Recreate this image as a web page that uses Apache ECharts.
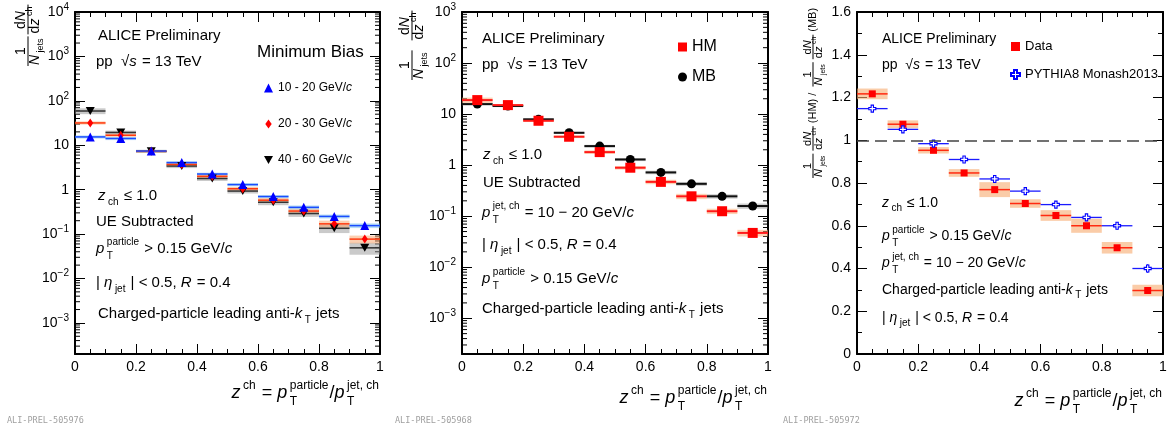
<!DOCTYPE html>
<html>
<head>
<meta charset="utf-8">
<script src="https://cdn.jsdelivr.net/npm/echarts@6/dist/echarts.min.js"></script>
<style>
html, body { margin: 0; padding: 0; background: #fff; }
#main { width: 1168px; height: 428px; }
</style>
</head>
<body>
<div id="main"></div>
<script>
var FONT = '"Liberation Sans", Arial, Helvetica, sans-serif';

// bins in z_ch
var zBins = [0.05, 0.15, 0.25, 0.35, 0.45, 0.55, 0.65, 0.75, 0.85, 0.95];
var binWidth = 0.1;

// left panel: minimum bias, three jet pT ranges
var mb10to20 = [15.4, 14.2, 7.4, 4.07, 2.25, 1.30, 0.70, 0.40, 0.25, 0.155];
var mb20to30 = [31.8, 16.8, 7.3, 3.7, 2.0, 1.05, 0.58, 0.33, 0.17, 0.077];
var mb40to60 = [59, 19.4, 7.3, 3.4, 1.78, 0.93, 0.52, 0.29, 0.135, 0.049];
var sys10to20 = [0.08, 0.08, 0.06, 0.07, 0.07, 0.08, 0.08, 0.1, 0.1, 0.12];
var sys20to30 = [0.08, 0.08, 0.07, 0.08, 0.1, 0.1, 0.12, 0.14, 0.18, 0.2];
var sys40to60 = [0.15, 0.1, 0.08, 0.1, 0.12, 0.12, 0.14, 0.16, 0.22, 0.3];

// middle panel: high multiplicity vs minimum bias, 10-20 GeV/c
var hmVals = [18.8, 15.0, 7.4, 3.6, 1.8, 0.89, 0.47, 0.245, 0.125, 0.047];
var mbVals = [15.7, 14.4, 7.9, 4.3, 2.36, 1.29, 0.72, 0.43, 0.245, 0.158];
var hmSys = [0.12, 0.05, 0.05, 0.06, 0.08, 0.08, 0.1, 0.12, 0.12, 0.15];
var mbSys = [0.06, 0.05, 0.04, 0.05, 0.06, 0.07, 0.08, 0.09, 0.1, 0.12];

// right panel: HM / MB ratio
var ratioData = [1.217, 1.075, 0.953, 0.847, 0.769, 0.704, 0.648, 0.600, 0.497, 0.297];
var ratioSys = [0.025, 0.018, 0.015, 0.018, 0.035, 0.02, 0.025, 0.033, 0.027, 0.027];
var ratioPythia = [1.148, 1.051, 0.984, 0.910, 0.819, 0.762, 0.699, 0.639, 0.600, 0.400];
var pythiaErr = [0.005, 0.005, 0.006, 0.006, 0.006, 0.007, 0.01, 0.012, 0.018, 0.02];

var logMin = Math.pow(10, -3.7);

// ---------- text helpers ----------
var ctx = document.createElement('canvas').getContext('2d');
function textWidth(s, size, italic) {
	ctx.font = (italic ? 'italic ' : '') + size + 'px ' + FONT;
	return ctx.measureText(s).width;
}
function textEl(s, x, y, size, italic, color) {
	return {
		type: 'text', x: x, y: y, silent: true,
		style: { text: s, font: (italic ? 'italic ' : '') + size + 'px ' + FONT, fill: color || '#000', verticalAlign: 'middle', align: 'left' }
	};
}
// tokens: [text, kind, text2]; kind: '' normal, 'i' italic, '^' sup, '_' sub, '^_' sup+sub stacked
function layout(tokens, size, small) {
	var s2 = small || Math.round(size * 0.68);
	var els = [], cx = 0;
	tokens.forEach(function(t) {
		var k = t[1] || '';
		if (k === '^' || k === '_' || k === '^_') {
			cx += 1.5;
			var w = 0;
			if (k === '^' || k === '^_') {
				els.push(textEl(t[0], cx, -size * 0.42, s2));
				w = textWidth(t[0], s2);
			}
			var sub = k === '_' ? t[0] : t[2];
			if (sub) {
				els.push(textEl(sub, cx, k === '_' ? size * 0.4 : size * 0.5, s2));
				w = Math.max(w, textWidth(sub, s2));
			}
			cx += w + 1;
		} else {
			var it = k === 'i';
			els.push(textEl(t[0], cx, 0, size, it));
			cx += textWidth(t[0], size, it) + (it ? 1 : 0);
		}
	});
	return { els: els, w: cx };
}
function place(lay, x, y) {
	lay.els.forEach(function(e) { e.x += x; e.y += y; });
	return lay.els;
}
function label(x, y, tokens, size, align, small) {
	var lay = layout(tokens, size, small);
	return place(lay, align === 'right' ? x - lay.w : x, y);
}
function fraction(num, den, size, small, x) {
	var n = layout(num, size, small), d = layout(den, size, small);
	var w = Math.max(n.w, d.w) + 2;
	var els = place(n, x + (w - n.w) / 2, -size * 0.47).concat(place(d, x + (w - d.w) / 2, size * 0.5));
	els.push({ type: 'line', silent: true, shape: { x1: x, y1: 0, x2: x + w, y2: 0 }, style: { stroke: '#000', lineWidth: 1 } });
	return { els: els, w: w };
}
// rotated y title, laid out from the bottom upwards
function yTitle(x, y, size, small, gap, parts) {
	var kids = [], cx = 0;
	parts.forEach(function(p) {
		if (p.num) {
			var f = fraction(p.num, p.den, size, small, cx);
			kids = kids.concat(f.els);
			cx += f.w + gap;
		} else {
			var l = layout(p.tokens, size, small);
			kids = kids.concat(place(l, cx, 0));
			cx += l.w + gap;
		}
	});
	return { type: 'group', x: x, y: y, rotation: Math.PI / 2, children: kids };
}

var tkPP = [['pp  \u221a'], ['s', 'i'], [' = 13 TeV']];
var tkZch = [['z', 'i'], ['ch', '_'], [' \u2264 1.0']];
var tkPtPart = [['p', 'i'], ['particle', '^_', 'T'], [' > 0.15 GeV/'], ['c', 'i']];
var tkPtJet = [['p', 'i'], ['jet, ch', '^_', 'T'], [' = 10 \u2212 20 GeV/'], ['c', 'i']];
var tkEta = [['| '], ['\u03b7', 'i'], ['jet', '_'], [' | < 0.5, '], ['R', 'i'], [' = 0.4']];
var tkCharged = [['Charged-particle leading anti-'], ['k', 'i'], ['T', '_'], [' jets']];
var tkXTitle = [['z', 'i'], ['ch', '^'], [' = '], ['p', 'i'], ['particle', '^_', 'T'], ['/'], ['p', 'i'], ['jet, ch', '^_', 'T']];
var fracNorm = { num: [['1']], den: [['N', 'i'], ['jets', '_']] };
var fracDiff = { num: [['d'], ['N', 'i']], den: [['d'], ['z', 'i'], ['ch', '^']] };

var texts = [];
function add(list) { texts = texts.concat(list); }
// left panel
add(label(98, 36, [['ALICE Preliminary']], 15));
add(label(96, 62, tkPP, 15));
add(label(257, 52, [['Minimum Bias']], 17));
add(label(98, 196, tkZch, 15));
add(label(96, 222, [['UE Subtracted']], 15));
add(label(96, 249, tkPtPart, 15));
add(label(96, 283, tkEta, 15));
add(label(98, 314, tkCharged, 15));
add(label(380, 393, tkXTitle, 18, 'right', 12));
// middle panel
add(label(482, 39, [['ALICE Preliminary']], 15));
add(label(482, 65, tkPP, 15));
add(label(483, 155, tkZch, 15));
add(label(483, 183, [['UE Subtracted']], 15));
add(label(482, 213, tkPtJet, 15));
add(label(482, 245, tkEta, 15));
add(label(482, 279, tkPtPart, 15));
add(label(482, 309, tkCharged, 15));
add(label(768, 398, tkXTitle, 18, 'right', 12));
// right panel
add(label(882, 39, [['ALICE Preliminary']], 14));
add(label(882, 65, tkPP, 14));
add(label(882, 203, tkZch, 14));
add(label(882, 236, tkPtPart, 14));
add(label(882, 263, tkPtJet, 14));
add(label(882, 290, tkCharged, 14));
add(label(882, 318, tkEta, 14));
add(label(1163, 401, tkXTitle, 18, 'right', 12));
// preliminary ids
['ALI-PREL-505976', 'ALI-PREL-505968', 'ALI-PREL-505972'].forEach(function(s, i) {
	texts.push({ type: 'text', x: [7, 395, 783][i], y: 421, silent: true,
		style: { text: s, font: '8.5px "DejaVu Sans Mono", monospace', fill: '#a0a0a0', verticalAlign: 'middle' } });
});
// y titles
texts.push(yTitle(28, 66, 14, 9, 2, [fracNorm, fracDiff]));
texts.push(yTitle(412, 80, 14, 9, 10, [fracNorm, fracDiff]));
texts.push(yTitle(813, 178, 11, 7, 3, [fracNorm, fracDiff, { tokens: [['(HM) / ']] }, fracNorm, fracDiff, { tokens: [['(MB)']] }]));

// ---------- axes ----------
function logLabel(v) {
	var l = Math.log(v) / Math.LN10, e = Math.round(l);
	if (Math.abs(l - e) > 1e-6) return '';
	if (e === 0) return '1';
	if (e === 1) return '10';
	return '{b|10}{s|' + (e < 0 ? '\u2212' : '') + Math.abs(e) + '}';
}
var axisLineStyle = { show: true, onZero: false, lineStyle: { color: '#000', width: 2 } };
var tickStyle = { color: '#000', width: 1 };
function xAx(grid, top) {
	return {
		type: 'value', gridIndex: grid, position: top ? 'top' : 'bottom', min: 0, max: 1, interval: 0.2,
		axisLine: axisLineStyle,
		axisTick: { show: true, inside: true, length: 10, lineStyle: tickStyle },
		minorTick: { show: true, splitNumber: 4, length: 5, lineStyle: tickStyle },
		splitLine: { show: false },
		axisLabel: { show: !top, margin: 6, fontFamily: FONT, fontSize: 14, color: '#000' }
	};
}
function yLog(grid, right, max) {
	return {
		type: 'log', logBase: 10, gridIndex: grid, position: right ? 'right' : 'left', min: logMin, max: max,
		axisLine: axisLineStyle,
		axisTick: { show: true, inside: true, length: 10, lineStyle: tickStyle },
		splitLine: { show: false },
		axisLabel: {
			show: !right, margin: 6, fontFamily: FONT, fontSize: 14, color: '#000', formatter: logLabel,
			rich: {
				b: { fontFamily: FONT, fontSize: 14, color: '#000', lineHeight: 20 },
				s: { fontFamily: FONT, fontSize: 10, color: '#000', lineHeight: 12, verticalAlign: 'top' }
			}
		}
	};
}
function yLin(grid, right) {
	return {
		type: 'value', gridIndex: grid, position: right ? 'right' : 'left', min: 0, max: 1.6, interval: 0.2,
		axisLine: axisLineStyle,
		axisTick: { show: true, inside: true, length: 10, lineStyle: tickStyle },
		minorTick: { show: true, splitNumber: 2, length: 5, lineStyle: tickStyle },
		splitLine: { show: false },
		axisLabel: { show: !right, margin: 6, fontFamily: FONT, fontSize: 14, color: '#000' }
	};
}

// ---------- series ----------
function binSeries(name, xi, yi, values, band, relative, opt) {
	return {
		type: 'custom', name: name, xAxisIndex: xi, yAxisIndex: yi, silent: true,
		data: zBins.map(function(z, i) { return [z, values[i], band ? band[i] : 0, opt.vErr ? opt.vErr[i] : 0]; }),
		renderItem: function(params, api) {
			var x = api.value(0), y = api.value(1), e = api.value(2), v = api.value(3);
			var h = binWidth / 2, kids = [];
			if (e) {
				var hi = relative ? y * (1 + e) : y + e, lo = relative ? y * (1 - e) : y - e;
				var a = api.coord([x - h, hi]), b = api.coord([x + h, lo]);
				kids.push({ type: 'rect', z2: 0, shape: { x: a[0], y: a[1], width: b[0] - a[0], height: b[1] - a[1] }, style: { fill: opt.band } });
			}
			var c = api.coord([x - h, y]), d = api.coord([x + h, y]);
			kids.push({ type: 'line', z2: 10, shape: { x1: c[0], y1: c[1], x2: d[0], y2: d[1] }, style: { stroke: opt.line, lineWidth: opt.lw || 1.5 } });
			if (v) {
				var t = api.coord([x, y + v]), u = api.coord([x, y - v]);
				kids.push({ type: 'line', z2: 10, shape: { x1: t[0], y1: t[1], x2: u[0], y2: u[1] }, style: { stroke: opt.line, lineWidth: opt.lw || 1.5 } });
			}
			return { type: 'group', children: kids };
		}
	};
}
function markers(name, xi, yi, values, symbol, size, color, extra) {
	var s = {
		type: 'scatter', name: name, xAxisIndex: xi, yAxisIndex: yi, z: 3, silent: true,
		symbol: symbol, symbolSize: size, itemStyle: { color: color, opacity: 1 },
		data: zBins.map(function(z, i) { return [z, values[i]]; })
	};
	for (var k in extra) s[k] = extra[k];
	return s;
}
// minor log ticks on both sides of a log panel
function minorLogTicks(xi, yi, max) {
	var vals = [];
	for (var d = -4; d < 4; d++) {
		for (var k = 2; k <= 9; k++) {
			var v = k * Math.pow(10, d);
			if (v > logMin && v < max) vals.push([0, v]);
		}
	}
	return {
		type: 'custom', xAxisIndex: xi, yAxisIndex: yi, silent: true, data: vals,
		renderItem: function(params, api) {
			var p0 = api.coord([0, api.value(1)]), p1 = api.coord([1, api.value(1)]);
			return { type: 'group', children: [
				{ type: 'line', shape: { x1: p0[0], y1: p0[1], x2: p0[0] + 5, y2: p0[1] }, style: { stroke: '#000', lineWidth: 1 } },
				{ type: 'line', shape: { x1: p1[0] - 5, y1: p1[1], x2: p1[0], y2: p1[1] }, style: { stroke: '#000', lineWidth: 1 } }
			] };
		}
	};
}

var downTri = 'path://M0,0 L10,0 L5,9 Z';
var openCross = 'path://M3,0 L6,0 L6,3 L9,3 L9,6 L6,6 L6,9 L3,9 L3,6 L0,6 L0,3 L3,3 Z';
var diamondSym = 'path://M5,0 L10,7 L5,14 L0,7 Z';

var series = [
	minorLogTicks(0, 0, 1e4),
	minorLogTicks(2, 2, 1e3),
	binSeries('b40', 0, 0, mb40to60, sys40to60, true, { band: 'rgba(150,150,150,0.5)', line: '#333' }),
	binSeries('b20', 0, 0, mb20to30, sys20to30, true, { band: 'rgba(250,160,100,0.5)', line: '#ff3a10' }),
	binSeries('b10', 0, 0, mb10to20, sys10to20, true, { band: 'rgba(110,185,235,0.5)', line: '#1a4dff' }),
	markers('40 - 60 GeV/c', 0, 0, mb40to60, downTri, [9, 8], '#000'),
	markers('20 - 30 GeV/c', 0, 0, mb20to30, diamondSym, [6, 9], '#ff0000'),
	markers('10 - 20 GeV/c', 0, 0, mb10to20, 'triangle', 9, '#0000ff'),

	binSeries('bmb', 2, 2, mbVals, mbSys, true, { band: 'rgba(160,160,160,0.5)', line: '#111', lw: 2 }),
	binSeries('bhm', 2, 2, hmVals, hmSys, true, { band: 'rgba(250,175,120,0.55)', line: '#ff1a1a', lw: 2 }),
	markers('MB', 2, 2, mbVals, 'circle', 9, '#000'),
	markers('HM', 2, 2, hmVals, 'rect', 10, '#ff0000'),

	binSeries('bdata', 4, 4, ratioData, ratioSys, false, { band: 'rgba(247,170,110,0.6)', line: '#ff2a10' }),
	binSeries('bpy', 4, 4, ratioPythia, null, false, { line: '#1a1aff', lw: 1.3, vErr: pythiaErr }),
	markers('Data', 4, 4, ratioData, 'rect', 7, '#ff0000'),
	markers('PYTHIA8 Monash2013', 4, 4, ratioPythia, openCross, 7, '#ffffff', {
		itemStyle: { color: '#ffffff', borderColor: '#0000ff', borderWidth: 1.1, opacity: 1 },
		markLine: { silent: true, symbol: 'none', label: { show: false }, lineStyle: { color: '#444', type: [12, 6], width: 1.5 }, data: [{ yAxis: 1 }] }
	})
];

function legendOf(left, top, names, size, gap) {
	return {
		left: left, top: top, orient: 'vertical', itemGap: gap, itemWidth: 9, itemHeight: 9, selectedMode: false,
		data: names, padding: 0,
		formatter: function(n) { return n.replace(/\/c$/, '/{i|c}'); },
		textStyle: { fontFamily: FONT, fontSize: size, color: '#000', lineHeight: size + 2,
			rich: { i: { fontFamily: FONT, fontSize: size, fontStyle: 'italic', color: '#000', lineHeight: size + 2 } } }
	};
}

var option = {
	animation: false,
	backgroundColor: '#fff',
	grid: [
		{ left: 75, top: 12, width: 305, height: 342, outerBoundsMode: 'none' },
		{ left: 462, top: 12, width: 306, height: 342, outerBoundsMode: 'none' },
		{ left: 857, top: 12, width: 306, height: 342, outerBoundsMode: 'none' }
	],
	xAxis: [xAx(0, false), xAx(0, true), xAx(1, false), xAx(1, true), xAx(2, false), xAx(2, true)],
	yAxis: [yLog(0, false, 1e4), yLog(0, true, 1e4), yLog(1, false, 1e3), yLog(1, true, 1e3), yLin(2, false), yLin(2, true)],
	legend: [
		legendOf(264, 81, ['10 - 20 GeV/c', '20 - 30 GeV/c', '40 - 60 GeV/c'], 12, 22),
		legendOf(678, 38, ['HM', 'MB'], 16, 12),
		legendOf(1010, 39, ['Data', 'PYTHIA8 Monash2013'], 13, 13)
	],
	series: series,
	graphic: { elements: texts }
};

var myChart = echarts.init(document.getElementById('main'));
myChart.setOption(option);
</script>
</body>
</html>
